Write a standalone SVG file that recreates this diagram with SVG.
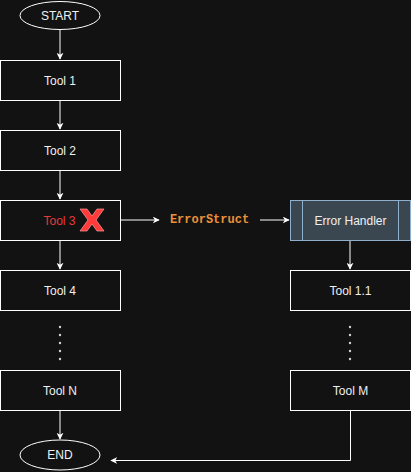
<svg xmlns="http://www.w3.org/2000/svg" width="411" height="472" viewBox="0 0 411 472">
<defs>
<marker id="ah" viewBox="0 0 10 10" refX="9" refY="5" markerWidth="7" markerHeight="7" markerUnits="userSpaceOnUse" orient="auto">
<path d="M0,0 L10,5 L0,10 L3,5 Z" fill="#ffffff"/>
</marker>
<style>
.box{fill:#121212;stroke:#ffffff;stroke-width:1}
.lbl{font-family:"Liberation Sans",Arial,sans-serif;font-size:12px;fill:#f0f0f0;text-anchor:middle;dominant-baseline:central}
.edge{stroke:#ffffff;stroke-width:1;fill:none}
.dot{fill:#d0d0d0}
</style>
</defs>
<rect width="411" height="472" fill="#121212"/>
<g id="connectors">
<path class="edge" d="M60,30 V59" marker-end="url(#ah)"/>
<path class="edge" d="M60,100 V129" marker-end="url(#ah)"/>
<path class="edge" d="M60,170 V199" marker-end="url(#ah)"/>
<path class="edge" d="M60,240 V269" marker-end="url(#ah)"/>
<path class="edge" d="M60,410 V439" marker-end="url(#ah)"/>
<path class="edge" d="M120,220 H159" marker-end="url(#ah)"/>
<path class="edge" d="M260,220 H289" marker-end="url(#ah)"/>
<path class="edge" d="M350,240 V269" marker-end="url(#ah)"/>
<path class="edge" d="M350.5,410 V460.5 H111" marker-end="url(#ah)"/>
<g class="dot">
<circle cx="60" cy="327" r="1.2"/><circle cx="60" cy="335" r="1.2"/><circle cx="60" cy="343" r="1.2"/><circle cx="60" cy="351" r="1.2"/><circle cx="60" cy="359" r="1.2"/>
<circle cx="350" cy="327" r="1.2"/><circle cx="350" cy="335" r="1.2"/><circle cx="350" cy="343" r="1.2"/><circle cx="350" cy="351" r="1.2"/><circle cx="350" cy="359" r="1.2"/>
</g>
</g>
<g id="start"><ellipse class="box" cx="60" cy="15.5" rx="40" ry="14"/><text class="lbl" x="60" y="15.5">START</text></g>
<g id="tool1"><rect class="box" x="0.5" y="60.5" width="120" height="40"/><text class="lbl" x="60" y="80.5">Tool 1</text></g>
<g id="tool2"><rect class="box" x="0.5" y="130.5" width="120" height="40"/><text class="lbl" x="60" y="150.5">Tool 2</text></g>
<g id="tool3"><rect class="box" x="0.5" y="200.5" width="120" height="40"/><text class="lbl" x="59.5" y="220.5" style="fill:#e83b3b">Tool 3</text>
<path d="M80,209 L87,209 L92,216 L97,209 L104,209 L96,220 L104,231 L97,231 L92,224 L87,231 L80,231 L88,220 Z" fill="#ff3a3a" stroke="#ff9a9a" stroke-width="0.7" stroke-linejoin="round"/></g>
<g id="errorstruct"><text x="209.5" y="220" style="font-family:'Liberation Mono','DejaVu Sans Mono',monospace;font-size:12px;font-weight:bold;fill:#e8913a;text-anchor:middle;dominant-baseline:central">ErrorStruct</text></g>
<g id="errorhandler"><rect x="290.5" y="200.5" width="120" height="40" fill="#3a4750" stroke="#8fb0cc"/><path d="M302.5,200.5 V240.5 M398.5,200.5 V240.5" stroke="#8fb0cc" fill="none"/><text class="lbl" x="350.5" y="220.5">Error Handler</text></g>
<g id="tool4"><rect class="box" x="0.5" y="270.5" width="120" height="40"/><text class="lbl" x="60" y="290.5">Tool 4</text></g>
<g id="tool11"><rect class="box" x="290.5" y="270.5" width="120" height="40"/><text class="lbl" x="350.5" y="290.5">Tool 1.1</text></g>
<g id="toolN"><rect class="box" x="0.5" y="370.5" width="120" height="40"/><text class="lbl" x="60" y="390.5">Tool N</text></g>
<g id="toolM"><rect class="box" x="290.5" y="370.5" width="120" height="40"/><text class="lbl" x="350.5" y="390.5">Tool M</text></g>
<g id="end"><ellipse class="box" cx="60" cy="455" rx="40" ry="15"/><text class="lbl" x="60" y="455">END</text></g>
</svg>
